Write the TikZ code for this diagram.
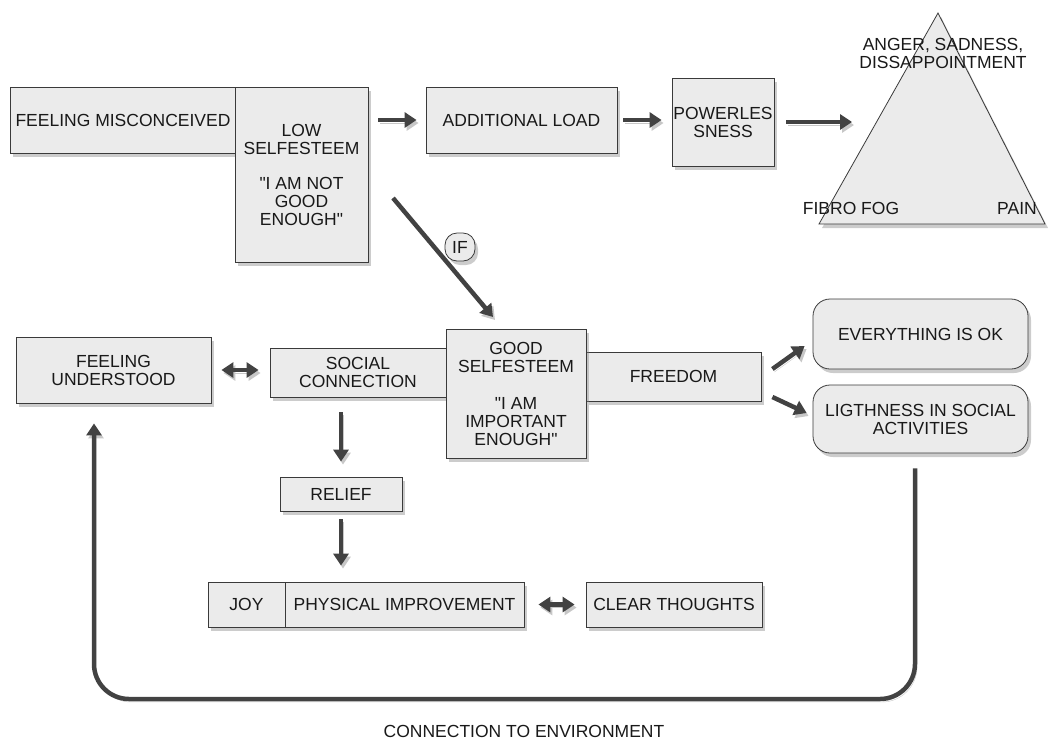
\documentclass[tikz,border=0pt]{standalone}
\usepackage{fontspec}
\setmainfont{Liberation Sans}[Ligatures=TeXOff]
\usepackage{xcolor}
\usetikzlibrary{arrows.meta,positioning,calc,shadows}

\definecolor{boxfill}{HTML}{EBEBEB}
\definecolor{boxline}{HTML}{3A3A3A}
\definecolor{arrowgray}{HTML}{424242}

\begin{document}
\begin{tikzpicture}[x=1pt,y=-1pt,
	every node/.style={font=\fontsize{17.5}{18}\selectfont, text=black!90, align=center, inner sep=0pt},
	box/.style={draw=boxline, line width=0.8pt, fill=boxfill, drop shadow={shadow xshift=3pt,shadow yshift=-4pt,opacity=.4}},
	roundbox/.style={box, rounded corners=17pt},
	arrshade/.style={preaction={draw=black!22, transform canvas={shift={(2pt,-3pt)}}}},
	arr/.style={arrshade, draw=arrowgray, line width=4.5pt, -{Triangle[length=12pt,width=15pt]}},
	biarr/.style={arrshade, draw=arrowgray, line width=4.5pt, {Triangle[length=12pt,width=15pt]}-{Triangle[length=12pt,width=15pt]}}]
	\useasboundingbox (0,0) rectangle (1048,740);
	
	% top row
	\node[box, minimum width=226pt, minimum height=66pt] (misc) at (123,120) {FEELING MISCONCEIVED};
	\node[box, minimum width=133pt, minimum height=175pt] (low) at (301.5,174.5) {LOW\\SELFESTEEM\\[17pt]"I AM NOT\\GOOD\\ENOUGH"};
	\node[box, minimum width=191pt, minimum height=66pt] (load) at (521.5,120) {ADDITIONAL LOAD};
	\node[box, minimum width=102pt, minimum height=88pt] (power) at (723,122) {POWERLES\\SNESS};
	
	\coordinate (apex) at (938,13);
	\coordinate (left) at (819,224);
	\coordinate (right) at (1045,224);
	\coordinate (tri) at (852,122);
	\filldraw[fill=boxfill, draw=boxline, line width=0.8pt, drop shadow={shadow xshift=3pt,shadow yshift=-4pt,opacity=.4}] (apex) -- (right) -- (left) -- cycle;
	\node (anger) at (943,53) {ANGER, SADNESS,\\DISSAPPOINTMENT};
	\node (fog) at (851,208) {FIBRO FOG};
	\node (pain) at (1017,208) {PAIN};
	
	\draw[arr, shorten <=10pt, shorten >=9pt] (low.east |- misc.east) -- (load.west);
	\draw[arr, shorten <=6pt, shorten >=10pt] (load.east) -- (power.west |- load.east);
	\draw[arr, shorten <=12pt] (power.east) -- (tri);
	
	% the IF branch
	\coordinate (ifstart) at (393,198);
	\coordinate (ifend) at (493,317);
	\draw[arr] (ifstart) -- (ifend);
	\node[box, rounded corners=12pt, minimum width=30pt, minimum height=28pt] (if) at (460,247) {IF};
	
	% middle row
	\node[box, minimum width=195pt, minimum height=66pt] (fu) at (113.5,370) {FEELING\\UNDERSTOOD};
	\node[box, minimum width=176pt, minimum height=49pt] (soc) at (358,372.5) {SOCIAL\\CONNECTION};
	\node[box, minimum width=175pt, minimum height=49pt] (free) at (673.5,376.5) {FREEDOM};
	\node[box, minimum width=140pt, minimum height=129pt] (good) at (516,393.5) {GOOD\\SELFESTEEM\\[19pt]"I AM\\IMPORTANT\\ENOUGH"};
	\node[roundbox, minimum width=215pt, minimum height=70pt] (ok) at (920.5,334) {EVERYTHING IS OK};
	\node[roundbox, minimum width=215pt, minimum height=68pt] (light) at (920.5,419) {LIGTHNESS IN SOCIAL\\ACTIVITIES};
	
	\draw[biarr, shorten <=10pt, shorten >=11pt] (fu.east) -- (soc.west |- fu.east);
	\draw[arr] ([xshift=11pt,yshift=7.5pt]free.east) -- ([xshift=-8pt,yshift=-12pt]ok.west);
	\draw[arr] ([xshift=11pt,yshift=-20.5pt]free.east) -- ([xshift=-6pt,yshift=6pt]light.west);
	
	% bottom part
	\node[box, minimum width=122pt, minimum height=34pt] (relief) at (341,494) {RELIEF};
	\node[box, minimum width=77pt, minimum height=45pt] (joy) at (246.5,604.5) {JOY};
	\node[box, minimum width=239pt, minimum height=45pt] (phys) at (404.5,604.5) {PHYSICAL IMPROVEMENT};
	\node[box, minimum width=176pt, minimum height=45pt] (clear) at (674,604.5) {CLEAR THOUGHTS};
	
	\draw[arr, shorten <=15pt, shorten >=15pt] (relief.north |- soc.south) -- (relief.north);
	\draw[arr, shorten <=8pt, shorten >=16pt] (relief.south) -- (relief.south |- phys.north);
	\draw[biarr, shorten <=14pt, shorten >=11pt] (phys.east) -- (clear.west);
	
	\coordinate (envline) at (500,699);
	\draw[arr, rounded corners=35pt, shorten >=20pt] ([xshift=-5.5pt,yshift=-15pt]light.south) |- (envline) -| ([xshift=-19.5pt]fu.south);
	\node (env) at (524,731) {CONNECTION TO ENVIRONMENT};
\end{tikzpicture}
\end{document}
